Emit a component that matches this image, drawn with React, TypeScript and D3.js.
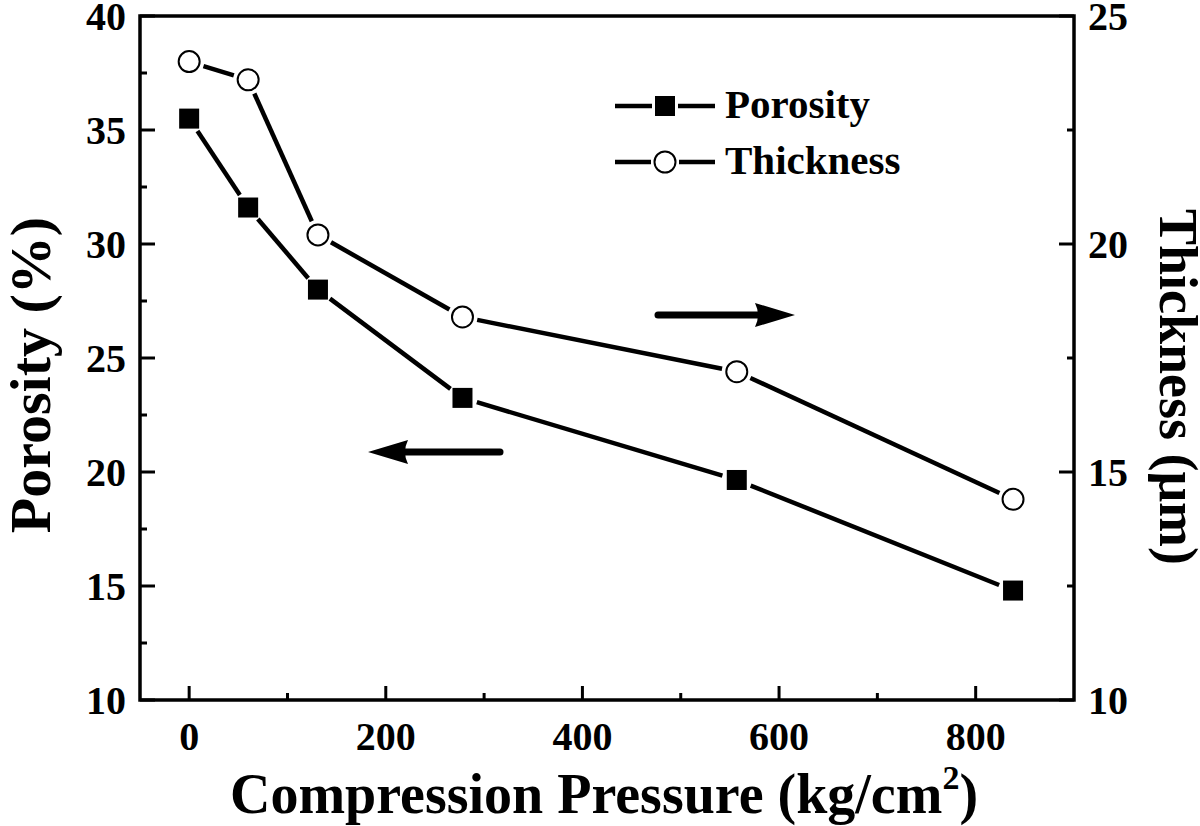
import React from "react";
import * as d3 from "d3";

const pressure = [0, 60, 131, 278, 557, 838];
const porosity = [35.5, 31.6, 28.0, 23.25, 19.65, 14.8];
const thickness = [24.0, 23.6, 20.2, 18.4, 17.2, 14.4];
const xTicks = [0, 200, 400, 600, 800];
const xMinor = [100, 300, 500, 700];
const yLeftTicks = [10, 15, 20, 25, 30, 35, 40];
const yLeftMinor = [12.5, 17.5, 22.5, 27.5, 32.5, 37.5];
const yRightTicks = [10, 15, 20, 25];
const yRightMinor = [12.5, 17.5, 22.5];

const W = 1200, H = 826;
const L = 140, R = 1074, T = 16, B = 700;
const FONT = "'Liberation Serif', 'Times New Roman', serif";

const x = d3.scaleLinear().domain([-50, 900]).range([L, R]);
const yL = d3.scaleLinear().domain([10, 40]).range([B, T]);
const yR = d3.scaleLinear().domain([10, 25]).range([B, T]);

function segments(pts: [number, number][], gap: number) {
  const out: [number, number, number, number][] = [];
  for (let i = 0; i < pts.length - 1; i++) {
    const [x1, y1] = pts[i];
    const [x2, y2] = pts[i + 1];
    const dx = x2 - x1, dy = y2 - y1;
    const len = Math.hypot(dx, dy);
    const ux = dx / len, uy = dy / len;
    out.push([x1 + ux * gap, y1 + uy * gap, x2 - ux * gap, y2 - uy * gap]);
  }
  return out;
}

function Arrow({ x1, x2, y }: { x1: number; x2: number; y: number }) {
  const dir = Math.sign(x2 - x1);
  const headLen = 40, headW = 12;
  const bx = x2 - dir * headLen;
  const d = `M${x2},${y} L${bx},${y - headW} Q${bx + dir * 6},${y} ${bx},${y + headW} Z`;
  return (
    <g>
      <line x1={x1} y1={y} x2={bx + dir * 8} y2={y} stroke="#000" strokeWidth={7} strokeLinecap="round" />
      <path d={d} fill="#000" />
    </g>
  );
}

export default function App() {
  const pPts: [number, number][] = pressure.map((p, i) => [x(p), yL(porosity[i])]);
  const tPts: [number, number][] = pressure.map((p, i) => [x(p), yR(thickness[i])]);
  const lw = 4.5;
  return (
    <svg width={W} height={H} style={{ position: "absolute", left: 0, top: 0, background: "#fff" }}
      fontFamily={FONT} fontWeight="bold">
      {/* frame */}
      <rect x={L} y={T} width={R - L} height={B - T} fill="none" stroke="#000" strokeWidth={3.5} />
      {/* x ticks */}
      {xTicks.map((v) => (
        <g key={"xt" + v}>
          <line x1={x(v)} x2={x(v)} y1={B} y2={B - 14} stroke="#000" strokeWidth={3} />
          <text x={x(v)} y={750} fontSize={40} textAnchor="middle">{v}</text>
        </g>
      ))}
      {xMinor.map((v) => (
        <line key={"xm" + v} x1={x(v)} x2={x(v)} y1={B} y2={B - 7} stroke="#000" strokeWidth={3} />
      ))}
      {/* left y */}
      {yLeftTicks.map((v) => (
        <g key={"yl" + v}>
          <line x1={L} x2={L + 15} y1={yL(v)} y2={yL(v)} stroke="#000" strokeWidth={3} />
          <text x={126} y={yL(v) + 13.5} fontSize={40} textAnchor="end">{v}</text>
        </g>
      ))}
      {yLeftMinor.map((v) => (
        <line key={"ylm" + v} x1={L} x2={L + 7} y1={yL(v)} y2={yL(v)} stroke="#000" strokeWidth={3} />
      ))}
      {/* right y */}
      {yRightTicks.map((v) => (
        <g key={"yr" + v}>
          <line x1={R} x2={R - 15} y1={yR(v)} y2={yR(v)} stroke="#000" strokeWidth={3} />
          <text x={1088} y={yR(v) + 13.5} fontSize={40} textAnchor="start">{v}</text>
        </g>
      ))}
      {yRightMinor.map((v) => (
        <line key={"yrm" + v} x1={R} x2={R - 7} y1={yR(v)} y2={yR(v)} stroke="#000" strokeWidth={3} />
      ))}
      {/* titles */}
      <text x={604} y={813} fontSize={56} textAnchor="middle">
        Compression Pressure (kg/cm<tspan fontSize={34} dy={-24}>2</tspan><tspan dy={24}>)</tspan>
      </text>
      <text transform={`translate(50,375) rotate(-90)`} fontSize={58} textAnchor="middle">Porosity (%)</text>
      <text transform={`translate(1160,387) rotate(90)`} fontSize={54} textAnchor="middle">Thickness (μm)</text>
      {/* porosity series */}
      {segments(pPts, 15).map((s, i) => (
        <line key={"ps" + i} x1={s[0]} y1={s[1]} x2={s[2]} y2={s[3]} stroke="#000" strokeWidth={lw} />
      ))}
      {pPts.map((p, i) => (
        <rect key={"pm" + i} x={p[0] - 10} y={p[1] - 10} width={20} height={20} fill="#000" />
      ))}
      {/* thickness series */}
      {segments(tPts, 15).map((s, i) => (
        <line key={"ts" + i} x1={s[0]} y1={s[1]} x2={s[2]} y2={s[3]} stroke="#000" strokeWidth={lw} />
      ))}
      {tPts.map((p, i) => (
        <circle key={"tm" + i} cx={p[0]} cy={p[1]} r={10.5} fill="#fff" stroke="#000" strokeWidth={2} />
      ))}
      {/* arrows */}
      <Arrow x1={658} x2={795} y={315} />
      <Arrow x1={500} x2={368} y={452} />
      {/* legend */}
      <g>
        <line x1={615} x2={652} y1={106} y2={106} stroke="#000" strokeWidth={lw} />
        <line x1={678} x2={715} y1={106} y2={106} stroke="#000" strokeWidth={lw} />
        <rect x={655} y={96} width={20} height={20} fill="#000" />
        <text x={725} y={118} fontSize={41}>Porosity</text>
        <line x1={615} x2={651} y1={162} y2={162} stroke="#000" strokeWidth={lw} />
        <line x1={679} x2={715} y1={162} y2={162} stroke="#000" strokeWidth={lw} />
        <circle cx={665} cy={162} r={10.5} fill="#fff" stroke="#000" strokeWidth={2} />
        <text x={725} y={174} fontSize={41}>Thickness</text>
      </g>
    </svg>
  );
}
